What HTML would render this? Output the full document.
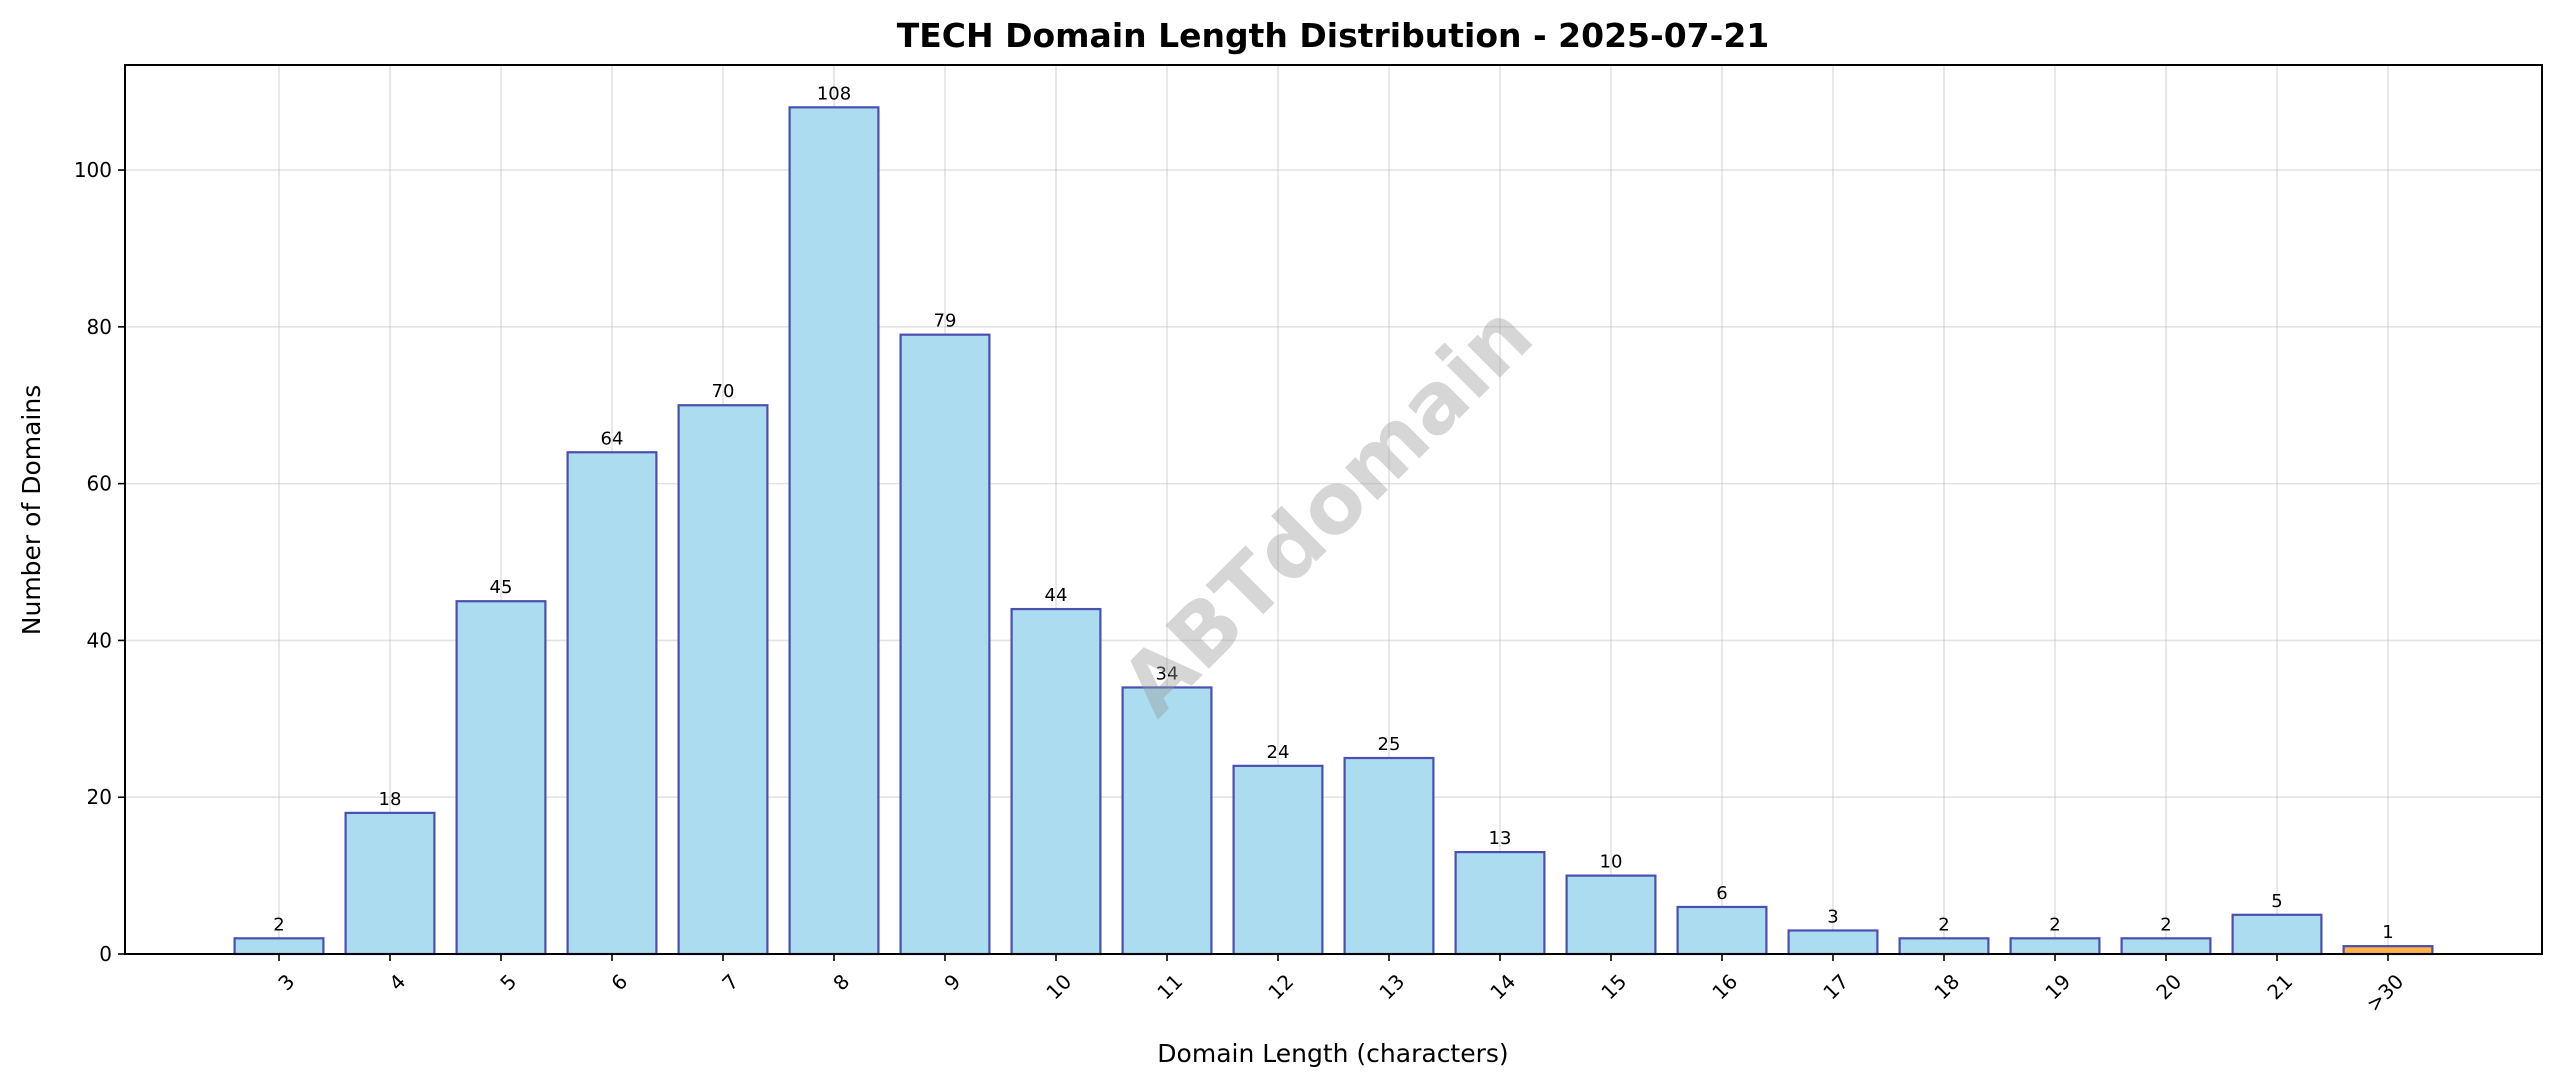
<!DOCTYPE html>
<html><head><meta charset="utf-8"><style>
html,body{margin:0;padding:0;background:#fff;}
svg{display:block;font-family:"DejaVu Sans","Liberation Sans",sans-serif;}
</style></head><body>
<svg id="chart" width="2560" height="1087" viewBox="0 0 2560 1087" xmlns="http://www.w3.org/2000/svg">
<rect width="2560" height="1087" fill="#fff"/>
<text x="1333" y="47" text-anchor="middle" font-size="33" font-weight="bold">TECH Domain Length Distribution - 2025-07-21</text>
<g id="grid"></g>
<g id="bars"></g>
<text x="1331" y="514" text-anchor="middle" dominant-baseline="middle" font-size="84" font-weight="bold" fill="#999" fill-opacity="0.4" transform="rotate(-45 1331 514)">ABTdomain</text>
<rect x="125" y="65" width="2417" height="889" fill="none" stroke="#000" stroke-width="2"/>
<g id="axes"></g>
<text x="1333" y="1062" text-anchor="middle" font-size="25">Domain Length (characters)</text>
<text x="40" y="510" text-anchor="middle" font-size="25" transform="rotate(-90 40 510)">Number of Domains</text>
</svg>
<script>
const categories = ["3","4","5","6","7","8","9","10","11","12","13","14","15","16","17","18","19","20","21",">30"];
const counts = [2,18,45,64,70,108,79,44,34,24,25,13,10,6,3,2,2,2,5,1];
const yTicks = [0,20,40,60,80,100];
const L=125,R=2542,T=65,B=954,Y_MAX=113.4;
const step=111.0,x0=279;
function xPos(i){return x0+i*step;}
function yPos(v){return B-(v/Y_MAX)*(B-T);}
const NS="http://www.w3.org/2000/svg";
function mk(tag,attrs,parent,text){const e=document.createElementNS(NS,tag);for(const k in attrs)e.setAttribute(k,attrs[k]);if(text!==undefined)e.textContent=text;parent.appendChild(e);return e;}
const grid=document.getElementById('grid'),bars=document.getElementById('bars'),axes=document.getElementById('axes');
yTicks.forEach(t=>{
  const y=yPos(t);
  const g=mk('line',{x1:L,x2:R,y1:y,y2:y,stroke:'#b0b0b0','stroke-opacity':0.35,'stroke-width':1.6},grid);
  
  
  const tk=mk('line',{x1:L-7,x2:L,y1:y,y2:y,stroke:'#000','stroke-width':1.6},axes);
  
  
  const lb=mk('text',{x:L-13,y:y+7,'text-anchor':'end','font-size':20},axes,String(t));
  
  
});
categories.forEach((c,i)=>{
  const x=xPos(i);
  const g=mk('line',{x1:x,x2:x,y1:T,y2:B,stroke:'#b0b0b0','stroke-opacity':0.35,'stroke-width':1.6},grid);
  
  
  const w=step*0.8,v=counts[i],yt=yPos(v);
  const isLast=c===">30";
  const b=mk('rect',{x:x-w/2,y:yt,width:w,height:B-yt,fill:isLast?'#ffb347':'#abdcef',stroke:'#4b4fb0','stroke-width':2.2},bars);
  
  
  const vl=mk('text',{x:x,y:yt-8,'text-anchor':'middle','font-size':18},bars,String(v));
  
  
  const tk=mk('line',{x1:x,x2:x,y1:B,y2:B+7,stroke:'#000','stroke-width':1.6},axes);
  
  
  const lb=mk('text',{x:x+6,y:B+18,'text-anchor':'end','font-size':20,transform:`rotate(-45 ${x+6} ${B+18})`,'dominant-baseline':'hanging'},axes,c);
  
  
});
</script>
</body></html>
